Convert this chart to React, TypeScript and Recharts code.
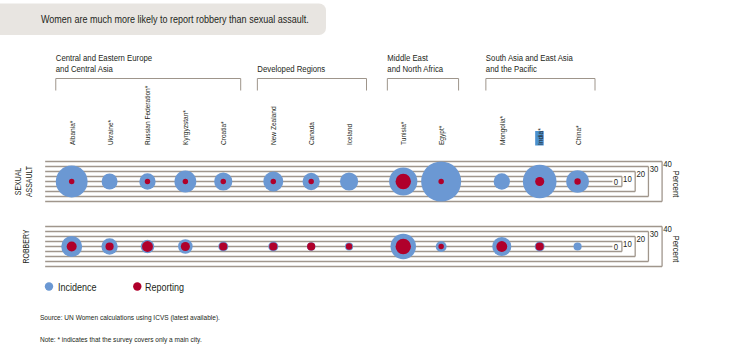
import React from 'react';
import { ScatterChart, Scatter, XAxis, YAxis, ZAxis, ReferenceLine, ReferenceDot } from 'recharts';

// ---------- data ----------
const countries = [
  'Albania*', 'Ukraine*', 'Russian Federation*', 'Kyrgyzstan*', 'Croatia*',
  'New Zealand', 'Canada', 'Iceland',
  'Tunisia*', 'Egypt*',
  'Mongolia*', 'India*', 'China*',
];
const countryGroup = [0, 0, 0, 0, 0, 1, 1, 1, 2, 2, 3, 3, 3];
const groupLabels = [
  ['Central and Eastern Europe', 'and Central Asia'],
  ['Developed Regions'],
  ['Middle East', 'and North Africa'],
  ['South Asia and East Asia', 'and the Pacific'],
];
// spacing (in country steps) before the first country of each group
const groupStep = [0, 1.32, 1.43, 1.6];

const sexualAssaultIncidence = [35, 17.6, 18, 24, 20, 22, 19, 20, 31, 44, 18, 37, 25];
const sexualAssaultReporting = [6, null, 6, 6, 6, 6, 6, null, 17, 6, null, 10, 7];
const robberyIncidence = [23, 18, 15, 16, 11, 11, 9.5, 9, 28, 12, 21, 11, 9];
const robberyReporting = [11, 9, 12, 10, 9, 9, 9, 7, 17, 6, 12, 9, null];

const rowLabels = [['SEXUAL', 'ASSAULT'], ['ROBBERY']];
const rowY = [130, 0];
const scaleTicks = [0, 10, 20, 30, 40];
const scaleEdgeX = [14.27, 14.52, 14.87, 15.22, 15.58];
const lineStartX = -0.7;
const bracketTopY = 336;
const bracketBottomY = 312;
const highlighted = 'India*';

const BLUE = '#6b98d3';
const RED = '#b0002b';
const LINE = '#a0968c';
const TEXT = '#231f20';
const FONT = '"Liberation Sans", Arial, sans-serif';
const NARROW = 0.82;

const series = [
  { name: 'Incidence', color: BLUE, rows: [sexualAssaultIncidence, robberyIncidence] },
  { name: 'Reporting', color: RED, rows: [sexualAssaultReporting, robberyReporting] },
];

// ---------- layout derived from data ----------
const positions: number[] = [];
countries.forEach((_, i) => {
  if (i === 0) positions.push(0);
  else {
    const g = countryGroup[i];
    const step = g !== countryGroup[i - 1] ? groupStep[g] : 1;
    positions.push(positions[i - 1] + step);
  }
});

const seriesData = series.map((s) =>
  s.rows.flatMap((vals, r) =>
    vals
      .map((v, i) => ({ x: positions[i], y: rowY[r], z: v, country: countries[i] }))
      .filter((d) => d.z !== null && d.z !== undefined)
  )
);

const groups = groupLabels.map((lines, g) => {
  const idx = countryGroup.map((cg, i) => (cg === g ? i : -1)).filter((i) => i >= 0);
  return { lines, left: positions[idx[0]] - 0.42, right: positions[idx[idx.length - 1]] + 0.46 };
});

// narrow text helper (Arial-metric font compressed to a condensed width)
const NText = ({ x, y, rotate = 0, anchor = 'start', size, children, fill = TEXT }: any) => (
  <text
    x={0}
    y={0}
    transform={`translate(${x} ${y}) rotate(${rotate}) scale(${NARROW} 1)`}
    textAnchor={anchor}
    fontSize={size}
    fill={fill}
    fontFamily={FONT}
  >
    {children}
  </text>
);

// ---------- renderers ----------
const Bubble = (color: string) => (p: any) => {
  const r = p.size ?? Math.PI * Math.pow((p.width ?? 0) / 2, 2);
  return <circle cx={p.cx} cy={p.cy} r={Math.max(r, 0)} fill={color} />;
};

const CountryTick = (props: any) => {
  const { x, y, payload } = props;
  const idx = positions.findIndex((p) => Math.abs(p - payload.value) < 1e-6);
  const label = idx >= 0 ? countries[idx] : '';
  const tx = x + 3;
  const ty = y - 6.5;
  return (
    <g>
      {label === highlighted && <rect x={tx - 7.5} y={ty - 14} width={8.5} height={14.5} fill="#4a90cf" />}
      <NText x={tx} y={ty} rotate={-90} size={8}>
        {label}
      </NText>
    </g>
  );
};

const RowTick = (props: any) => {
  const { x, y, payload } = props;
  const r = rowY.indexOf(payload.value);
  const lines = r >= 0 ? rowLabels[r] : [];
  const bases = lines.length === 2 ? [x - 22, x - 11] : [x - 14];
  return (
    <g>
      {lines.map((l, k) => (
        <NText key={k} x={bases[k]} y={y} rotate={-90} anchor="middle" size={8.5}>
          {l}
        </NText>
      ))}
    </g>
  );
};

export default function App() {
  const refLines: React.ReactNode[] = [];
  rowY.forEach((ry, r) => {
    scaleTicks.forEach((v, k) => {
      const ex = scaleEdgeX[k];
      if (v === 0) {
        refLines.push(
          <ReferenceLine key={`c${r}`} segment={[{ x: lineStartX, y: ry }, { x: ex, y: ry }]} stroke={LINE} strokeWidth={1.3} ifOverflow="visible" />
        );
      } else {
        refLines.push(
          <ReferenceLine key={`t${r}-${v}`} segment={[{ x: lineStartX, y: ry + v }, { x: ex, y: ry + v }]} stroke={LINE} strokeWidth={1.3} ifOverflow="visible" />,
          <ReferenceLine key={`b${r}-${v}`} segment={[{ x: lineStartX, y: ry - v }, { x: ex, y: ry - v }]} stroke={LINE} strokeWidth={1.3} ifOverflow="visible" />,
          <ReferenceLine key={`e${r}-${v}`} segment={[{ x: ex, y: ry - v }, { x: ex, y: ry + v }]} stroke={LINE} strokeWidth={1.3} ifOverflow="visible" />
        );
      }
    });
  });

  const scaleLabels: React.ReactNode[] = [];
  rowY.forEach((ry, r) => {
    scaleTicks.forEach((v, k) => {
      scaleLabels.push(
        <ReferenceDot
          key={`sl${r}-${v}`}
          x={scaleEdgeX[k]}
          y={ry + v}
          ifOverflow="visible"
          shape={(p: any) => (
            <NText x={p.cx + 1.2} y={p.cy + (v === 0 ? 3 : 5)} size={9.5}>
              {v}
            </NText>
          )}
        />
      );
    });
    scaleLabels.push(
      <ReferenceDot
        key={`pct${r}`}
        x={scaleEdgeX[scaleEdgeX.length - 1]}
        y={ry}
        ifOverflow="visible"
        shape={(p: any) => (
          <NText x={p.cx + 11} y={p.cy + 2.5} rotate={90} anchor="middle" size={9.5}>
            Percent
          </NText>
        )}
      />
    );
  });

  const bracketEls: React.ReactNode[] = [];
  groups.forEach((g, i) => {
    bracketEls.push(
      <ReferenceLine key={`bt${i}`} segment={[{ x: g.left, y: bracketTopY }, { x: g.right, y: bracketTopY }]} stroke="#9e958b" strokeWidth={1} ifOverflow="visible" />,
      <ReferenceLine key={`bl${i}`} segment={[{ x: g.left, y: bracketBottomY }, { x: g.left, y: bracketTopY }]} stroke="#9e958b" strokeWidth={1} ifOverflow="visible" />,
      <ReferenceLine key={`br${i}`} segment={[{ x: g.right, y: bracketBottomY }, { x: g.right, y: bracketTopY }]} stroke="#9e958b" strokeWidth={1} ifOverflow="visible" />,
      <ReferenceDot
        key={`bh${i}`}
        x={g.left}
        y={bracketTopY}
        ifOverflow="visible"
        shape={(p: any) => (
          <g>
            {g.lines.map((l, k) => (
              <NText key={k} x={p.cx} y={p.cy - 6.5 - (g.lines.length - 1 - k) * 11} size={9.5}>
                {l}
              </NText>
            ))}
          </g>
        )}
      />
    );
  });

  return (
    <div style={{ position: 'absolute', left: 0, top: 0, width: 730, height: 357, background: '#fff', overflow: 'hidden' }}>
      <svg width={730} height={357} style={{ position: 'absolute', left: 0, top: 0 }}>
        <rect x={-10} y={3.5} width={336} height={31.5} rx={7} fill="#e8e5e1" />
        <NText x={41} y={22.5} size={11}>
          Women are much more likely to report robbery than sexual assault.
        </NText>
        {series.map((s, i) => (
          <g key={s.name}>
            <circle cx={49 + i * 88.3} cy={286.5} r={4.2} fill={s.color} />
            <NText x={58 + i * 87} y={290.5} size={11}>
              {s.name}
            </NText>
          </g>
        ))}
        <NText x={40} y={319.5} size={8}>
          Source: UN Women calculations using ICVS (latest available).
        </NText>
        <NText x={40} y={342} size={8}>
          Note: * indicates that the survey covers only a main city.
        </NText>
      </svg>
      <div style={{ position: 'absolute', left: 0, top: 0 }}>
        <ScatterChart width={730} height={357} margin={{ top: 1.5, right: 52, bottom: 75.5, left: 0 }}>
          <XAxis
            type="number"
            dataKey="x"
            xAxisId={0}
            orientation="top"
            domain={[-0.757, 16]}
            allowDataOverflow
            ticks={positions}
            interval={0}
            tick={<CountryTick />}
            tickLine={false}
            tickSize={0}
            tickMargin={0}
            axisLine={false}
            height={150}
          />
          <YAxis
            type="number"
            dataKey="y"
            domain={[-70, 190]}
            allowDataOverflow
            ticks={rowY}
            interval={0}
            tick={<RowTick />}
            tickLine={false}
            tickSize={0}
            tickMargin={0}
            axisLine={false}
            width={43}
          />
          <ZAxis type="number" dataKey="z" domain={[0, 40]} range={[0, 20]} />
          {refLines}
          {bracketEls}
          {scaleLabels}
          {series.map((s, i) => (
            <Scatter key={s.name} name={s.name} data={seriesData[i]} fill={s.color} shape={Bubble(s.color)} isAnimationActive={false} />
          ))}
        </ScatterChart>
      </div>
    </div>
  );
}
